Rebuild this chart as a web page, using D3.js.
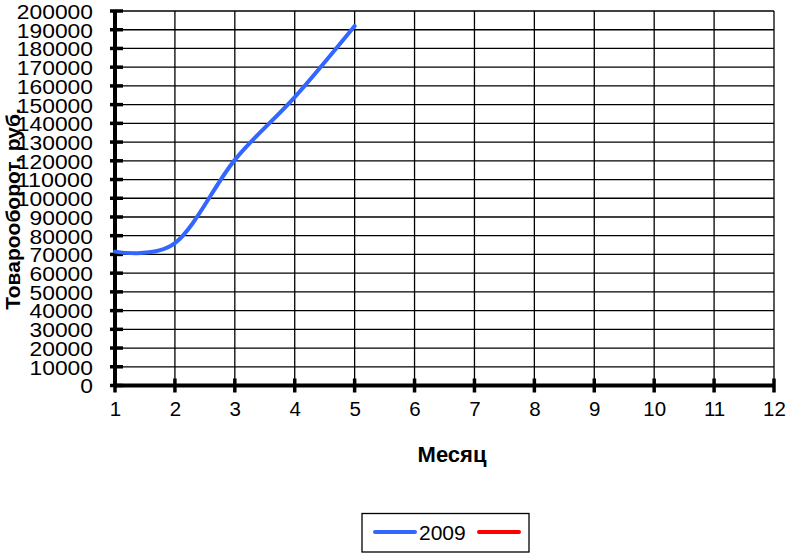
<!DOCTYPE html>
<html>
<head>
<meta charset="utf-8">
<script src="https://cdn.jsdelivr.net/npm/d3@7"></script>
<style>
html,body{margin:0;padding:0;background:#fff;}
text{font-family:"Liberation Sans",Arial,sans-serif;fill:#000;}
</style>
</head>
<body>
<svg id="chart" width="791" height="555"></svg>
<script>
const months = [1, 2, 3, 4, 5];
const values2009 = [71500, 76000, 120500, 154000, 192000];
const series2 = []; // red series without data
const xTicks = [1,2,3,4,5,6,7,8,9,10,11,12];
const yTicks = d3.range(0, 200001, 10000);
const seriesNames = ["2009", ""];
const seriesColors = ["#3366ff", "#ff0000"];
const xTitle = "Месяц";
const yTitle = "Товарооборот, руб.";

const svg = d3.select("#chart");
const pL = 115, pR = 774, pT = 11, pB = 385.5;
const x = d3.scaleLinear().domain([1, 12]).range([pL, pR]);
const y = d3.scaleLinear().domain([0, 200000]).range([pB, pT]);

// gridlines
svg.append("g").selectAll("line").data(yTicks).join("line")
  .attr("x1", pL).attr("x2", pR)
  .attr("y1", d => y(d)).attr("y2", d => y(d))
  .attr("stroke", "#000").attr("stroke-width", 1.3);
svg.append("g").selectAll("line").data(xTicks).join("line")
  .attr("x1", d => x(d)).attr("x2", d => x(d))
  .attr("y1", pT).attr("y2", pB)
  .attr("stroke", "#000").attr("stroke-width", 1.3);

// y axis
const yAxis = d3.axisLeft(y).tickValues(yTicks).tickSize(0).tickPadding(22).tickFormat(d3.format("d"));
const gy = svg.append("g").attr("transform", `translate(${pL},0)`).call(yAxis);
gy.select(".domain").remove();
gy.selectAll("text").attr("font-size", 20.5).attr("font-family", "Liberation Sans, Arial")
  .attr("textLength", d => String(d).length * 12.7).attr("lengthAdjust", "spacingAndGlyphs").attr("dy", "0.36em");
svg.append("line").attr("x1", pL).attr("x2", pL).attr("y1", pT - 1).attr("y2", pB + 1.5)
  .attr("stroke", "#000").attr("stroke-width", 4);
svg.append("g").selectAll("line").data(yTicks).join("line")
  .attr("x1", pL - 5).attr("x2", pL + 8)
  .attr("y1", d => y(d)).attr("y2", d => y(d))
  .attr("stroke", "#000").attr("stroke-width", 3.5);

// x axis
const xAxis = d3.axisBottom(x).tickValues(xTicks).tickSize(0).tickPadding(19).tickFormat(d3.format("d"));
const gx = svg.append("g").attr("transform", `translate(0,${pB})`).call(xAxis);
gx.select(".domain").remove();
gx.selectAll("text").attr("font-size", 20.5).attr("font-family", "Liberation Sans, Arial").attr("dy", "0.55em");
svg.append("line").attr("x1", pL - 1.5).attr("x2", pR + 1).attr("y1", pB).attr("y2", pB)
  .attr("stroke", "#000").attr("stroke-width", 4);
svg.append("g").selectAll("line").data(xTicks).join("line")
  .attr("x1", d => x(d)).attr("x2", d => x(d))
  .attr("y1", pB - 7).attr("y2", pB + 7)
  .attr("stroke", "#000").attr("stroke-width", 3.5);

// line
const data = months.map((m, i) => ({m, v: values2009[i]}));
const line = d3.line().x(d => x(d.m)).y(d => y(d.v)).curve(d3.curveCardinal.tension(0));
svg.append("path").datum(data).attr("d", line)
  .attr("fill", "none").attr("stroke", seriesColors[0]).attr("stroke-width", 4)
  .attr("stroke-linecap", "round");

// titles
svg.append("text").attr("x", 452).attr("y", 462).attr("text-anchor", "middle")
  .attr("font-size", 22).attr("font-weight", "bold").text(xTitle);
svg.append("text").attr("transform", "translate(20,209) rotate(-90)").attr("text-anchor", "middle")
  .attr("font-size", 21).attr("font-weight", "bold").text(yTitle);

// legend
const lg = svg.append("g");
lg.append("rect").attr("x", 362).attr("y", 513.5).attr("width", 167).attr("height", 38.5)
  .attr("fill", "#fff").attr("stroke", "#000").attr("stroke-width", 1.3);
lg.append("line").attr("x1", 375).attr("x2", 415).attr("y1", 532).attr("y2", 532)
  .attr("stroke", seriesColors[0]).attr("stroke-width", 4).attr("stroke-linecap", "round");
lg.append("text").attr("x", 419).attr("y", 539.5).attr("font-size", 21).text(seriesNames[0]);
lg.append("line").attr("x1", 479).attr("x2", 519).attr("y1", 532).attr("y2", 532)
  .attr("stroke", seriesColors[1]).attr("stroke-width", 4).attr("stroke-linecap", "round");
</script>
</body>
</html>
